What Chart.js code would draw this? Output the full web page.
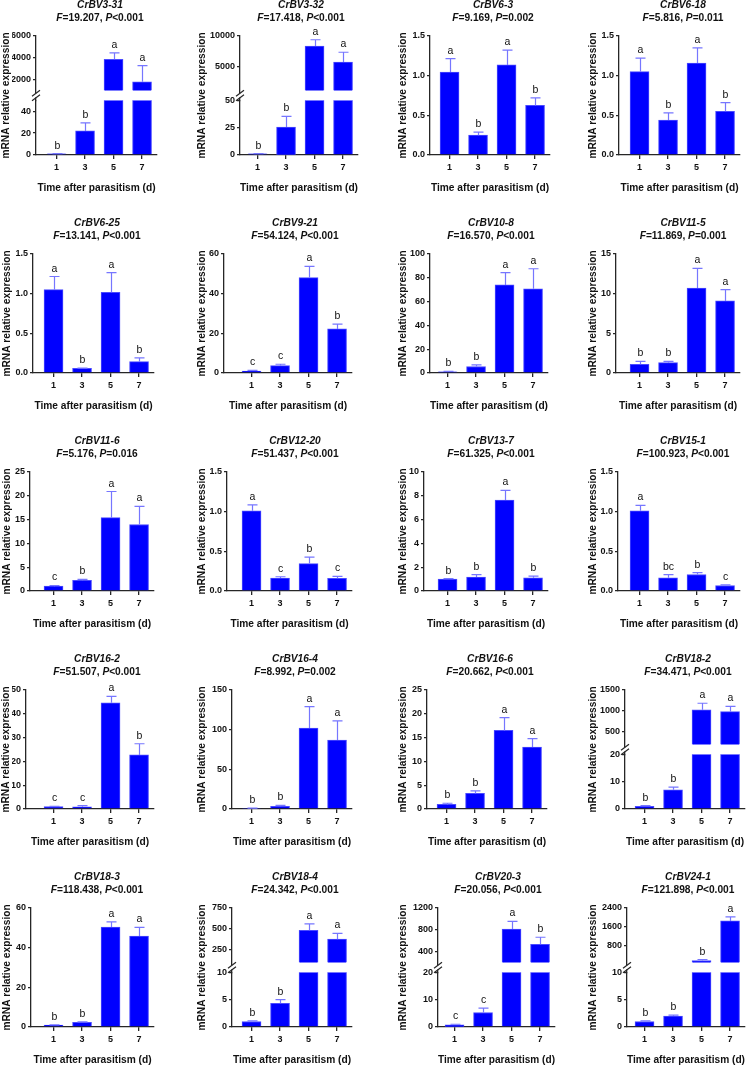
<!DOCTYPE html>
<html>
<head>
<meta charset="utf-8">
<title>CrBV gene expression after parasitism</title>
<script src="https://cdn.jsdelivr.net/npm/chart.js@4.4.1/dist/chart.umd.min.js"></script>
<style>
  body { margin: 0; background: #fff; width: 751px; height: 1067px; overflow: hidden; position: relative;
         font-family: "Liberation Sans", Arial, Helvetica, sans-serif; }
  canvas { position: absolute; }
  .ttl { position: absolute; width: 170px; text-align: center; font-size: 10.2px; font-weight: bold;
         line-height: 12.5px; color: #111; white-space: nowrap; }
</style>
</head>
<body>
<script>
// ---- data ----
const times = [1, 3, 5, 7];

const genes = ['CrBV3-31', 'CrBV3-32', 'CrBV6-3', 'CrBV6-18',
               'CrBV6-25', 'CrBV9-21', 'CrBV10-8', 'CrBV11-5',
               'CrBV11-6', 'CrBV12-20', 'CrBV13-7', 'CrBV15-1',
               'CrBV16-2', 'CrBV16-4', 'CrBV16-6', 'CrBV18-2',
               'CrBV18-3', 'CrBV18-4', 'CrBV20-3', 'CrBV24-1'];

const fStats = ['19.207', '17.418', '9.169', '5.816',
                '13.141', '54.124', '16.570', '11.869',
                '5.176', '51.437', '61.325', '100.923',
                '51.507', '8.992', '20.662', '34.471',
                '118.438', '24.342', '20.056', '121.898'];

const pStats = ['<0.001', '<0.001', '=0.002', '=0.011',
                '<0.001', '<0.001', '<0.001', '=0.001',
                '=0.016', '<0.001', '<0.001', '<0.001',
                '<0.001', '=0.002', '<0.001', '<0.001',
                '<0.001', '<0.001', '<0.001', '<0.001'];

// mean relative expression at days 1, 3, 5, 7
const means = [
  [1.0, 22, 3870, 1800],   [1.0, 25.6, 8350, 5700], [1.045, 0.25, 1.135, 0.625], [1.05, 0.44, 1.16, 0.55],
  [1.05, 0.057, 1.017, 0.142], [1.0, 3.7, 48.1, 22.2], [1.0, 5.4, 74, 70.8], [1.09, 1.3, 10.7, 9.08],
  [1.0, 2.24, 15.4, 13.96], [1.01, 0.163, 0.345, 0.159], [1.0, 1.17, 7.64, 1.11], [1.01, 0.167, 0.207, 0.069],
  [0.95, 0.9, 44.6, 22.7], [0.9, 3.3, 102, 87], [0.95, 3.26, 16.5, 13.0], [1.0, 7.0, 1030, 985],
  [1.0, 2.3, 50.4, 45.9], [1.0, 4.35, 485, 379], [0.8, 5.3, 815, 534], [1.0, 2.0, 190, 1855]
];

// upper error (SD) for each bar
const errs = [
  [0.15, 7.4, 590, 1480],  [0.15, 9.7, 1030, 1620], [0.17, 0.037, 0.187, 0.094], [0.17, 0.09, 0.19, 0.11],
  [0.166, 0.005, 0.248, 0.048], [0.3, 0.7, 5.7, 2.4], [0.3, 1.4, 10.3, 16.8], [0.37, 0.16, 2.5, 1.42],
  [0.15, 0.2, 5.5, 3.8], [0.075, 0.016, 0.082, 0.024], [0.03, 0.21, 0.82, 0.14], [0.07, 0.04, 0.025, 0.008],
  [0.1, 0.46, 2.7, 4.7], [0.1, 1.2, 27, 24], [0.25, 0.55, 2.7, 1.8], [0.2, 1.0, 155, 125],
  [0.1, 0.3, 2.6, 4.3], [0.1, 0.65, 76, 68], [0.2, 1.6, 140, 130], [0.1, 0.15, 40, 175]
];

const letters = [
  ['b', 'b', 'a', 'a'], ['b', 'b', 'a', 'a'], ['a', 'b', 'a', 'b'], ['a', 'b', 'a', 'b'],
  ['a', 'b', 'a', 'b'], ['c', 'c', 'a', 'b'], ['b', 'b', 'a', 'a'], ['b', 'b', 'a', 'a'],
  ['c', 'b', 'a', 'a'], ['a', 'c', 'b', 'c'], ['b', 'b', 'a', 'b'], ['a', 'bc', 'b', 'c'],
  ['c', 'c', 'a', 'b'], ['b', 'b', 'a', 'a'], ['b', 'b', 'a', 'a'], ['b', 'b', 'a', 'a'],
  ['b', 'b', 'a', 'a'], ['b', 'b', 'a', 'a'], ['c', 'c', 'a', 'b'], ['b', 'b', 'b', 'a']
];

// y tick labels (lower segment for broken axes)
const yTicks = [
  ['0', '20', '40'], ['0', '25', '50'], ['0.0', '0.5', '1.0', '1.5'], ['0.0', '0.5', '1.0', '1.5'],
  ['0.0', '0.5', '1.0', '1.5'], ['0', '20', '40', '60'], ['0', '20', '40', '60', '80', '100'], ['0', '5', '10', '15'],
  ['0', '5', '10', '15', '20', '25'], ['0.0', '0.5', '1.0', '1.5'], ['0', '2', '4', '6', '8', '10'], ['0.0', '0.5', '1.0', '1.5'],
  ['0', '10', '20', '30', '40', '50'], ['0', '50', '100', '150'], ['0', '5', '10', '15', '20', '25'], ['0', '10', '20'],
  ['0', '20', '40', '60'], ['0', '5', '10'], ['0', '10', '20'], ['0', '5', '10']
];
// upper segment tick labels for broken axes
const yTicksHigh = [
  ['2000', '4000', '6000'], ['5000', '10000'], null, null,
  null, null, null, null,
  null, null, null, null,
  null, null, null, ['500', '1000', '1500'],
  null, ['250', '500', '750'], ['400', '800', '1200'], ['800', '1600', '2400']
];
// top of lower segment / base of upper segment
const breakLow = [50, 50, null, null, null, null, null, null, null, null, null, null,
                  null, null, null, 20, null, 10, 20, 10];
const breakHigh = [1000, 1000, null, null, null, null, null, null, null, null, null, null,
                   null, null, null, 200, null, 100, 200, 100];

// ---- layout ----
const rowTop = [0, 218, 436, 654, 872];
const yTitleX = [6, 202, 403, 593, 7, 202, 403, 593, 7, 202, 403, 593, 6, 202, 403, 593, 7, 202, 403, 593];
const axisX = [36, 240, 430, 619, 33, 224, 430, 616, 30, 227, 424, 618, 26, 232, 427, 625, 31, 232, 438, 627];
const endX = [157, 358, 550, 740, 154, 352, 548, 740, 154, 352, 548, 740, 154, 352, 547, 745, 154, 352, 555, 745];

const axisColor = '#262626';
const textColor = '#111111';
const barColor = '#0000ff';
const barEdge = '#4a4aff';
const errColor = '#7676ff';
const fontFamily = '"Liberation Sans", Arial, Helvetica, sans-serif';
const canvasH = 200;
const plotTop = 36;
const xMax = 8.05;
const pxPerUnit = 14.25;
const segPx = 56;
const gapPx = 10;

Chart.defaults.font.family = fontFamily;

function tickAxis(labels, min, max, width, extra) {
    return Object.assign({
        type: 'linear',
        position: 'left',
        min: min,
        max: max,
        border: { color: axisColor, width: 1.3 },
        grid: { drawOnChartArea: false, color: axisColor, lineWidth: 1.3, tickLength: 3 },
        ticks: {
            color: textColor,
            font: { size: 9, weight: 'bold' },
            padding: 2,
            autoSkip: false,
            callback: (v, k) => labels[k]
        },
        afterBuildTicks: s => { s.ticks = labels.map(l => ({ value: parseFloat(l) })); },
        afterFit: s => { s.width = width; }
    }, extra || {});
}

// error bars, significance letters and the axis break mark
function marksPlugin(i) {
    return {
        id: 'marks' + i,
        afterDatasetsDraw(chart) {
            const ctx = chart.ctx;
            const xs = chart.scales.x;
            const broken = breakLow[i] !== null;
            ctx.save();
            times.forEach((t, k) => {
                const m = means[i][k];
                const e = errs[i][k];
                const ys = (broken && m > breakLow[i]) ? chart.scales.yu : chart.scales.y;
                const px = Math.round(xs.getPixelForValue(t)) + 0.5;
                const y0 = ys.getPixelForValue(m);
                const y1 = ys.getPixelForValue(m + e);
                ctx.strokeStyle = errColor;
                ctx.lineWidth = 1.2;
                ctx.beginPath();
                ctx.moveTo(px, y0);
                ctx.lineTo(px, y1);
                ctx.moveTo(px - 5, y1);
                ctx.lineTo(px + 5, y1);
                ctx.stroke();
                ctx.fillStyle = textColor;
                ctx.font = '10.5px ' + fontFamily;
                ctx.textAlign = 'center';
                ctx.textBaseline = 'alphabetic';
                ctx.fillText(letters[i][k], px, y1 - 5);
            });
            if (broken) {
                const yl = chart.scales.y;
                const gapTop = chart.scales.yu.getPixelForValue(breakHigh[i]);
                const mid = (gapTop + yl.top) / 2;
                const ax = yl.right;
                ctx.fillStyle = '#ffffff';
                ctx.fillRect(ax - 1.5, mid - 2, 3, 4);
                ctx.strokeStyle = axisColor;
                ctx.lineWidth = 1.2;
                ctx.beginPath();
                [-2.2, 2.2].forEach(d => {
                    ctx.moveTo(ax - 4, mid + d + 3);
                    ctx.lineTo(ax + 4, mid + d - 3);
                });
                ctx.stroke();
            }
            ctx.restore();
        }
    };
}

function makePanel(i) {
    const r = Math.floor(i / 4);
    const left = Math.round(yTitleX[i] - 6);
    const width = endX[i] + 4 - left;
    const yw = axisX[i] - left - 12;
    const broken = breakLow[i] !== null;

    const cv = document.createElement('canvas');
    cv.width = width;
    cv.height = canvasH;
    cv.style.left = left + 'px';
    cv.style.top = rowTop[r] + 'px';
    document.body.appendChild(cv);

    // two-line panel title (gene in italics, F and P in italics)
    const ttl = document.createElement('div');
    ttl.className = 'ttl';
    const cx = endX[i] - 57;
    ttl.style.left = (cx - 85) + 'px';
    ttl.style.top = (rowTop[r] - 1) + 'px';
    const g = document.createElement('i');
    g.textContent = genes[i];
    ttl.appendChild(g);
    ttl.appendChild(document.createElement('br'));
    const f = document.createElement('i');
    f.textContent = 'F';
    ttl.appendChild(f);
    ttl.appendChild(document.createTextNode('=' + fStats[i] + ', '));
    const p = document.createElement('i');
    p.textContent = 'P';
    ttl.appendChild(p);
    ttl.appendChild(document.createTextNode(pStats[i]));
    document.body.appendChild(ttl);

    const barStyle = {
        backgroundColor: barColor,
        borderColor: barEdge,
        borderWidth: 1,
        barThickness: 19,
        grouped: false
    };

    const scales = {
        x: {
            type: 'linear',
            min: xMax - (endX[i] - axisX[i]) / pxPerUnit,
            max: xMax,
            offset: false,
            border: { color: axisColor, width: 1.3 },
            grid: { drawOnChartArea: false, offset: false, color: axisColor, lineWidth: 1.3, tickLength: 4 },
            ticks: {
                color: textColor,
                font: { size: 9, weight: 'bold' },
                padding: 3,
                autoSkip: false,
                maxRotation: 0,
                callback: v => String(v)
            },
            afterBuildTicks: s => { s.ticks = times.map(t => ({ value: t })); },
            title: {
                display: true,
                text: 'Time after parasitism (d)',
                color: textColor,
                font: { size: 10.2, weight: 'bold' },
                padding: { top: 6, bottom: 0 }
            }
        }
    };

    let datasets;
    if (broken) {
        const hi = yTicksHigh[i];
        const hiMax = parseFloat(hi[hi.length - 1]);
        const hiMin = breakHigh[i] - (hiMax - breakHigh[i]) * gapPx / segPx;
        scales.y = tickAxis(yTicks[i], 0, breakLow[i], yw, { stack: 'v', stackWeight: segPx });
        scales.yu = tickAxis(hi, hiMin, hiMax, yw, { stack: 'v', stackWeight: segPx + gapPx });
        datasets = [
            Object.assign({
                yAxisID: 'y',
                data: times.map((t, k) => ({ x: t, y: Math.min(means[i][k], breakLow[i]) }))
            }, barStyle),
            Object.assign({
                yAxisID: 'yu',
                data: times.map((t, k) => ({ x: t, y: means[i][k] > breakLow[i] ? [breakHigh[i], means[i][k]] : null }))
            }, barStyle)
        ];
    } else {
        const lab = yTicks[i];
        scales.y = tickAxis(lab, 0, parseFloat(lab[lab.length - 1]), yw);
        datasets = [
            Object.assign({
                yAxisID: 'y',
                data: times.map((t, k) => ({ x: t, y: means[i][k] }))
            }, barStyle)
        ];
    }

    // title-only axis so the y title spans the whole plot height
    scales.yt = {
        type: 'linear',
        position: 'left',
        ticks: { display: false },
        grid: { display: false },
        border: { display: false },
        title: {
            display: true,
            text: 'mRNA relative expression',
            color: textColor,
            font: { size: 10.2, weight: 'bold' },
            padding: 0
        },
        afterFit: s => { s.width = 12; }
    };

    new Chart(cv, {
        type: 'bar',
        data: { datasets },
        options: {
            responsive: false,
            animation: false,
            layout: { padding: { top: plotTop, bottom: 6, left: 0, right: 4 } },
            plugins: {
                legend: { display: false },
                tooltip: { enabled: false }
            },
            scales
        },
        plugins: [marksPlugin(i)]
    });
}

genes.forEach((g, i) => makePanel(i));
</script>
</body>
</html>
